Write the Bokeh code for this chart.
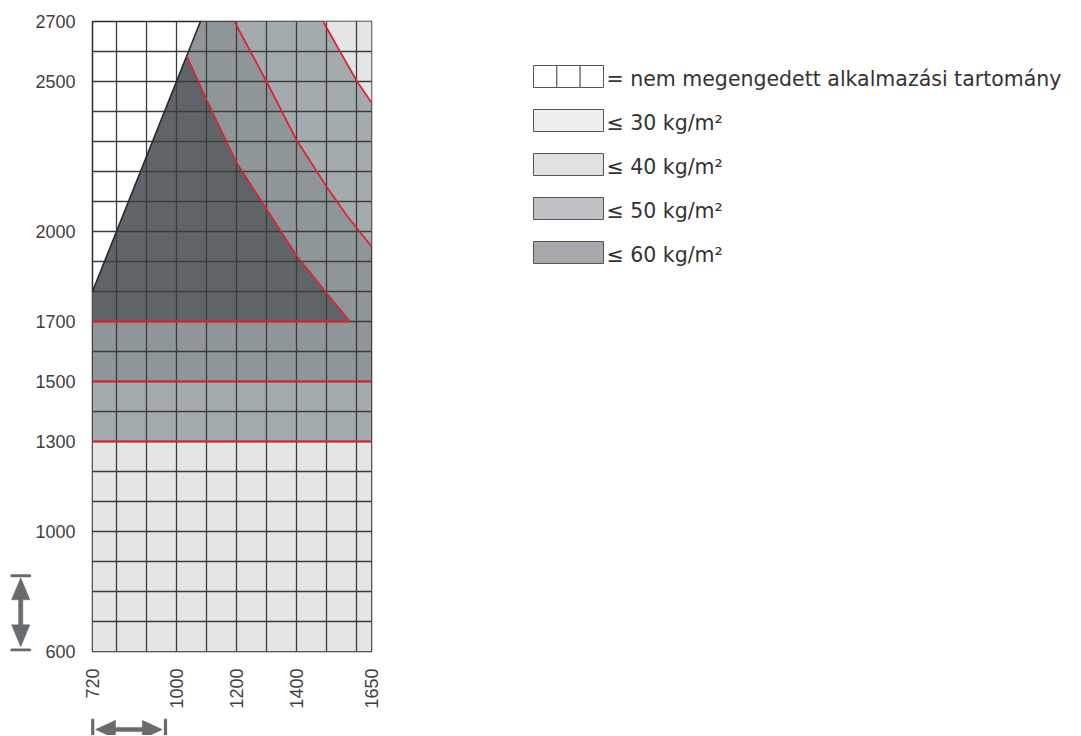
import math
from bokeh.plotting import figure
from bokeh.models import Range1d, FixedTicker
from bokeh.layouts import row, column
from bokeh.embed import file_html
from bokeh.resources import INLINE
from bokeh.core.properties import value

# ---------------- data ----------------
x_ticks = [720, 1000, 1200, 1400, 1650]
y_ticks = [600, 1000, 1300, 1500, 1700, 2000, 2500, 2700]
x_grid = [800, 900, 1000, 1100, 1200, 1300, 1400, 1500, 1600]
y_grid = [700, 800, 900, 1000, 1100, 1200, 1300, 1400, 1500, 1600, 1700, 1800,
          1900, 2000, 2100, 2200, 2300, 2400, 2500, 2600]

# horizontal bands
band_bottom = [600, 1300, 1500]
band_top = [1300, 1500, 1700]

# boundary of the non-permitted range
limit_x = [720, 1080]
limit_y = [1800, 2700]

# red limit curves
curve1_x = [1034, 1100, 1200, 1300, 1400, 1500, 1578]
curve1_y = [2585, 2440, 2230, 2075, 1920, 1795, 1700]
curve2_x = [1193, 1300, 1400, 1500, 1570, 1650]
curve2_y = [2700, 2500, 2305, 2150, 2050, 1950]
curve3_x = [1489, 1545, 1602, 1650]
curve3_y = [2700, 2600, 2500, 2430]

# red horizontal lines
hline_y = [1300, 1500, 1700]
hline_x_end = [1650, 1650, 1578]

legend_labels = ["= nem megengedett alkalmazási tartomány", "≤ 30 kg/m²",
                 "≤ 40 kg/m²", "≤ 50 kg/m²", "≤ 60 kg/m²"]

# ---------------- styles ----------------
C_LIGHT = "#e4e5e7"
C_MIDLIGHT = "#a4abae"
C_MID = "#8f9699"
C_DARK = "#5f6468"
band_colors = [C_LIGHT, C_MIDLIGHT, C_MID]
legend_colors = ["#ffffff", "#efefef", "#e0e1e2", "#bfc1c4", "#a6a8ab"]
RED = "#e3202e"
GRID = "#3c3c3c"
TXT = "#404040"
ARROW = "#686b6e"

X0, X1 = 720, 1650
Y0, Y1 = 600, 2700

TOP, FRAME_H, BOTTOM = 21, 630, 61
ROW_H = TOP + FRAME_H + BOTTOM          # 712
LEFT_W = 32                              # column holding the vertical arrow icon

p = figure(width=396, height=ROW_H, x_range=Range1d(X0, X1), y_range=Range1d(Y0, Y1),
           output_backend="svg", toolbar_location=None,
           min_border_left=60, min_border_right=57, min_border_top=TOP, min_border_bottom=BOTTOM)
p.background_fill_color = "white"
p.border_fill_color = "white"
p.outline_line_color = "#2a2a2a"
p.outline_line_width = 1.5

# bands
p.quad(left=[X0] * len(band_bottom), right=[X1] * len(band_bottom),
       bottom=band_bottom, top=band_top, fill_color=band_colors, line_color=None)
# upper area below limit line
p.patch([X0, X1, X1, limit_x[1], limit_x[0]], [band_top[-1], band_top[-1], Y1, limit_y[1], limit_y[0]],
        fill_color=C_MID, line_color=None)
# between curve 2 and curve 3
p.patch(curve2_x + [X1], curve2_y + [Y1], fill_color=C_MIDLIGHT, line_color=None)
# beyond curve 3
p.patch(curve3_x + [X1], curve3_y + [Y1], fill_color=C_LIGHT, line_color=None)
# dark region
p.patch([X0] + curve1_x[::-1] + [X0], [band_top[-1]] + curve1_y[::-1] + [limit_y[0]],
        fill_color=C_DARK, line_color=None)

# grid on top of fills
p.xgrid.ticker = FixedTicker(ticks=x_grid)
p.ygrid.ticker = FixedTicker(ticks=y_grid)
for g in (p.xgrid, p.ygrid):
    g.grid_line_color = GRID
    g.grid_line_width = 1.3
    g.level = "guide"

# limit line and red curves
p.line(limit_x, limit_y, line_color="#2a2a2a", line_width=1.6, level="annotation")
for cx, cy in ((curve1_x, curve1_y), (curve2_x, curve2_y), (curve3_x, curve3_y)):
    p.line(cx, cy, line_color=RED, line_width=1.7, level="annotation")
p.segment(x0=[X0] * len(hline_y), y0=hline_y, x1=hline_x_end, y1=hline_y,
          line_color=RED, line_width=2, level="annotation")

# axes
for ax, ticks in ((p.xaxis, x_ticks), (p.yaxis, y_ticks)):
    ax.ticker = FixedTicker(ticks=ticks)
    ax.axis_line_color = None
    ax.major_tick_line_color = None
    ax.minor_tick_line_color = None
    ax.major_tick_out = 0
    ax.major_tick_in = 0
    ax.major_label_standoff = 17
    ax.major_label_text_font = "Liberation Sans"
    ax.major_label_text_font_size = "18px"
    ax.major_label_text_color = TXT
p.xaxis.major_label_orientation = math.pi / 2


def blank(fig):
    fig.grid.visible = False
    fig.outline_line_color = None
    fig.background_fill_color = "white"
    fig.border_fill_color = "white"


# ---------------- vertical dimension arrow icon (page pixel coords) ----------------
vfig = figure(width=LEFT_W, height=ROW_H, x_range=Range1d(0, LEFT_W),
              y_range=Range1d(TOP + FRAME_H, TOP), output_backend="svg", toolbar_location=None,
              x_axis_location=None, y_axis_location=None,
              min_border_left=0, min_border_right=0, min_border_top=TOP, min_border_bottom=BOTTOM)
blank(vfig)
cx, t, b, hl, hw, sw = 20.2, 577.3, 646.3, 22, 9.2, 2.1
vfig.patch([cx, cx + hw, cx + sw, cx + sw, cx + hw, cx, cx - hw, cx - sw, cx - sw, cx - hw],
           [t, t + hl, t + hl, b - hl, b - hl, b, b - hl, b - hl, t + hl, t + hl],
           fill_color=ARROW, line_color=ARROW, line_width=0.5)
vfig.segment(x0=[11.2, 11.2], x1=[29.2, 29.2], y0=[575.3, 649.5], y1=[575.3, 649.5],
             line_color=ARROW, line_width=3, line_cap="round")

# ---------------- horizontal dimension arrow icon (page pixel coords) ----------------
HF_H = 23
hfig = figure(width=LEFT_W + 396, height=HF_H, x_range=Range1d(0, LEFT_W + 396),
              y_range=Range1d(ROW_H + HF_H, ROW_H), output_backend="svg", toolbar_location=None,
              x_axis_location=None, y_axis_location=None, min_border=0)
blank(hfig)
cy, l, r, hl2, hw2, sw2 = 729, 95, 161.8, 20, 9.2, 2.1
hfig.patch([l, l + hl2, l + hl2, r - hl2, r - hl2, r, r - hl2, r - hl2, l + hl2, l + hl2],
           [cy, cy - hw2, cy - sw2, cy - sw2, cy - hw2, cy, cy + hw2, cy + sw2, cy + sw2, cy + hw2],
           fill_color=ARROW, line_color=ARROW, line_width=0.5)
hfig.segment(x0=[92.2, 165], x1=[92.2, 165], y0=[719.5, 719.5], y1=[740, 740],
             line_color=ARROW, line_width=3.2, line_cap="round")

# ---------------- legend panel (page pixel coords, x offset 428) ----------------
LW = 652
lg = figure(width=LW, height=ROW_H, x_range=Range1d(0, LW), y_range=Range1d(TOP + FRAME_H, TOP),
            output_backend="svg", toolbar_location=None,
            x_axis_location=None, y_axis_location=None,
            min_border_left=0, min_border_right=0, min_border_top=TOP, min_border_bottom=BOTTOM)
blank(lg)

box_left, box_w, box_h, row0, step = 105, 70, 22, 65, 44
tops = [row0 + i * step for i in range(len(legend_labels))]
third = box_w / 3
lg.quad(left=[box_left + k * third for k in range(3)], right=[box_left + (k + 1) * third for k in range(3)],
        top=[tops[0]] * 3, bottom=[tops[0] + box_h] * 3,
        fill_color="white", line_color="#555555", line_width=1)
lg.quad(left=[box_left] * 4, right=[box_left + box_w] * 4,
        top=tops[1:], bottom=[t + box_h for t in tops[1:]],
        fill_color=legend_colors[1:], line_color="#555555", line_width=1)
lg.text(x=[box_left + box_w + 3] * len(legend_labels), y=[t + box_h / 2 + 2 for t in tops],
        text=legend_labels, text_font=value("DejaVu Sans"), text_font_size="20.5px",
        text_color="#333333", text_baseline="middle", text_align="left")

layout = row(column(row(vfig, p), hfig), lg)
open("out.html", "w").write(file_html(layout, INLINE))
